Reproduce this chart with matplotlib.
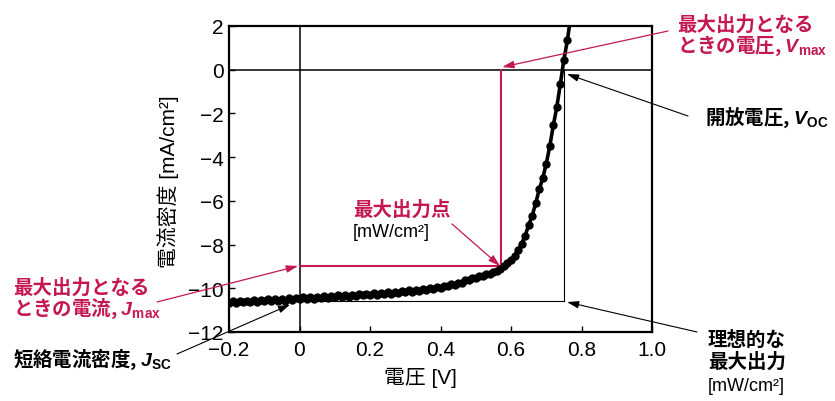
import matplotlib
matplotlib.use("Agg")
import matplotlib.pyplot as plt

plt.rcParams['font.family'] = ['Liberation Sans', 'Noto Sans CJK JP', 'DejaVu Sans']
plt.rcParams['mathtext.fontset'] = 'custom'
plt.rcParams['mathtext.rm'] = 'Liberation Sans'
plt.rcParams['mathtext.bf'] = 'Liberation Sans:bold'
plt.rcParams['mathtext.bfit'] = 'Liberation Sans:bold:italic'
plt.rcParams['mathtext.it'] = 'Liberation Sans:italic'

# ---- data ----
voltage = [-0.20, -0.19, -0.18, -0.17, -0.16, -0.15, -0.14, -0.13, -0.12, -0.11,
           -0.10, -0.09, -0.08, -0.07, -0.06, -0.05, -0.04, -0.03, -0.02, -0.01,
           0.00, 0.01, 0.02, 0.03, 0.04, 0.05, 0.06, 0.07, 0.08, 0.09,
           0.10, 0.11, 0.12, 0.13, 0.14, 0.15, 0.16, 0.17, 0.18, 0.19,
           0.20, 0.21, 0.22, 0.23, 0.24, 0.25, 0.26, 0.27, 0.28, 0.29,
           0.30, 0.31, 0.32, 0.33, 0.34, 0.35, 0.36, 0.37, 0.38, 0.39,
           0.40, 0.41, 0.42, 0.43, 0.44, 0.45, 0.46, 0.47, 0.48, 0.49,
           0.50, 0.51, 0.52, 0.53, 0.54, 0.55, 0.56, 0.57, 0.58, 0.59,
           0.60, 0.61, 0.62, 0.63, 0.64, 0.65, 0.66, 0.67, 0.68, 0.69,
           0.70, 0.71, 0.72, 0.73, 0.74, 0.75, 0.76, 0.77]
current = [-10.66, -10.59, -10.67, -10.58, -10.65, -10.56, -10.63, -10.55, -10.62, -10.53,
           -10.60, -10.51, -10.59, -10.50, -10.57, -10.48, -10.56, -10.46, -10.54, -10.44,
           -10.51, -10.42, -10.49, -10.41, -10.47, -10.38, -10.46, -10.36, -10.44, -10.34,
           -10.42, -10.33, -10.39, -10.31, -10.38, -10.29, -10.35, -10.27, -10.33, -10.25,
           -10.31, -10.23, -10.29, -10.20, -10.27, -10.18, -10.24, -10.15, -10.22, -10.13,
           -10.18, -10.10, -10.16, -10.06, -10.13, -10.03, -10.09, -9.99, -10.04, -9.94,
           -9.98, -9.88, -9.91, -9.81, -9.83, -9.74, -9.74, -9.64, -9.64, -9.54,
           -9.54, -9.44, -9.43, -9.34, -9.33, -9.24, -9.20, -9.10, -8.98, -8.85,
           -8.70, -8.50, -8.25, -7.97, -7.59, -7.12, -6.68, -6.12, -5.48, -4.97,
           -4.30, -3.50, -2.55, -1.70, -0.65, 0.45, 1.35, 2.50]

V_max, J_max = 0.571, -8.97
V_oc, J_sc = 0.751, -10.58

x_ticks = [-0.2, 0.0, 0.2, 0.4, 0.6, 0.8, 1.0]
x_tick_labels = ['\u22120.2', '0', '0.2', '0.4', '0.6', '0.8', '1.0']
y_ticks = [-12, -10, -8, -6, -4, -2, 0, 2]
y_tick_labels = ['\u221212', '\u221210', '\u22128', '\u22126', '\u22124', '\u22122', '0', '2']

CRIMSON = '#c4184f'
W, H = 835, 402

fig = plt.figure(figsize=(W / 100, H / 100), dpi=100)
ax = fig.add_axes([229 / W, 1 - 333 / H, (652 - 229) / W, (333 - 27) / H])

ax.set_xlim(-0.2, 1.0)
ax.set_ylim(-12, 2)
ax.set_xticks(x_ticks)
ax.set_xticklabels(x_tick_labels)
ax.set_yticks(y_ticks)
ax.set_yticklabels(y_tick_labels)
ax.tick_params(direction='in', length=4, width=1, labelsize=15)
ax.tick_params(axis='x', pad=6)
ax.tick_params(axis='y', pad=4)
for s in ax.spines.values():
    s.set_linewidth(1.6)

# zero lines
ax.axhline(0, color='black', lw=1.1, zorder=1)
ax.axvline(0, color='black', lw=1.1, zorder=1)

# ideal maximum power rectangle
ax.plot([0, V_oc], [J_sc, J_sc], color='black', lw=0.8, zorder=2)
ax.plot([V_oc, V_oc], [0, J_sc], color='black', lw=0.8, zorder=2)

# maximum power rectangle
ax.plot([0, V_max], [J_max, J_max], color=CRIMSON, lw=1.5, zorder=2)
ax.plot([V_max, V_max], [J_max, 0], color=CRIMSON, lw=1.5, zorder=2)

# J-V curve
ax.plot(voltage, current, color='black', lw=2.6, marker='o', ms=5.0, zorder=3)


def fp(x, y):
    """top-left pixel -> figure pixels"""
    return (x, H - y)


def arrow(tip, start, color, lw):
    ax.annotate('', xy=tip, xycoords='data', xytext=fp(*start), textcoords='figure pixels',
                arrowprops=dict(arrowstyle='-|>,head_length=0.7,head_width=0.22',
                                color=color, lw=lw, shrinkA=0, shrinkB=0),
                annotation_clip=False, zorder=5)


arrow((0.575, 0.12), (668, 32), CRIMSON, 0.9)
arrow((0.759, -0.2), (688, 117), 'black', 0.8)
arrow((0.759, -10.63), (697, 333), 'black', 0.8)
arrow((0.569, -8.98), (452, 225), CRIMSON, 0.9)
arrow((-0.004, -8.98), (157, 303), CRIMSON, 0.9)
arrow((-0.027, -10.75), (177, 355), 'black', 0.8)

cjk_bold = dict(family=['Noto Sans CJK JP', 'DejaVu Sans'], fontweight='bold', fontsize=14)


def label(x, y, s, color='black', **kw):
    props = dict(cjk_bold)
    props.update(kw)
    fig.text(*fp(x, y), s, transform=None, color=color, ha='left', va='center', **props)


label(677, 25, '最大出力となる', CRIMSON)
label(677, 46, r'ときの電圧, $\mathbfit{V}_{\mathbf{max}}$', CRIMSON)
label(705, 118, r'開放電圧, $\mathbfit{V}_{\mathbf{OC}}$')
label(708, 340, '理想的な')
label(708, 362, '最大出力')
label(708, 387, '[mW/cm²]', family=['Liberation Sans', 'Noto Sans CJK JP'],
      fontweight='normal', fontsize=13)
label(353, 210, '最大出力点', CRIMSON)
label(353, 233, '[mW/cm²]', family=['Liberation Sans', 'Noto Sans CJK JP'],
      fontweight='normal', fontsize=13)
label(13, 288, '最大出力となる', CRIMSON)
label(13, 309, r'ときの電流, $\mathbfit{J}_{\mathbf{max}}$', CRIMSON)
label(13, 360, r'短絡電流密度, $\mathbfit{J}_{\mathbf{SC}}$')

# axis labels
fig.text(*fp(420, 378), '電圧 [V]', transform=None, ha='center', va='center', fontsize=15,
         family=['Liberation Sans', 'Noto Sans CJK JP'])
fig.text(*fp(168, 182), '電流密度 [mA/cm²]', transform=None, ha='center', va='center',
         rotation=90, fontsize=15, family=['Liberation Sans', 'Noto Sans CJK JP'])

fig.savefig('out.png', dpi=100)
